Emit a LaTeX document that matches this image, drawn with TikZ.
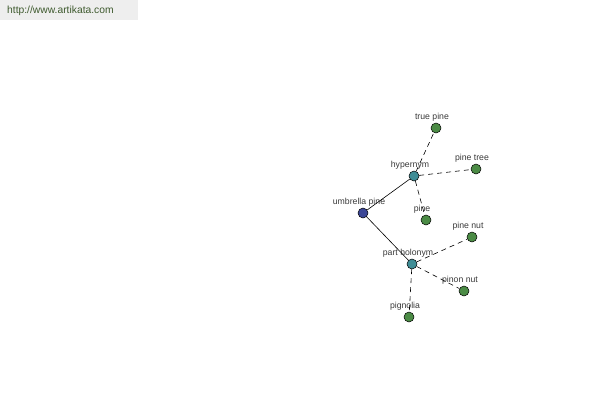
\documentclass[tikz,border=0pt]{standalone}
\usepackage{fontspec}
\setmainfont{Liberation Sans}
\usepackage{xcolor}
\definecolor{vroot}{HTML}{3b4696}
\definecolor{vhub}{HTML}{3f8d96}
\definecolor{vleaf}{HTML}{4b8b45}
\definecolor{vtext}{HTML}{3a3a3a}
\definecolor{vbanner}{HTML}{eeeeee}
\definecolor{vlink}{HTML}{3e5a2e}

\tikzset{
	wnode/.style={circle, draw=black, line width=0.5pt, minimum size=10pt, inner sep=0pt},
	lbl/.style={font=\fontsize{8.7}{9}\selectfont, text=vtext, inner sep=0.3pt, xshift=-4pt, label distance=0.5pt},
	rel/.style={draw=black, line width=0.6pt},
	reldash/.style={draw=black, line width=0.6pt, dash pattern=on 5pt off 4pt}
}

\begin{document}
\begin{tikzpicture}[x=1pt, y=-1pt]
		\useasboundingbox[fill=white] (0,0) rectangle (600,400);
		\fill[color=vbanner] (0,0) rectangle (138,20);
		\node[anchor=west, font=\fontsize{10.3}{12}\selectfont, text=vlink, inner sep=0pt] (site) at (7,10.5) {http://www.artikata.com};

		\node[wnode, fill=vroot, label={[lbl]above:umbrella pine}] (umbrella) at (363,213) {};
		\node[wnode, fill=vhub, label={[lbl]above:hypernym}] (hypernym) at (414,176) {};
		\node[wnode, fill=vhub, label={[lbl]above:part holonym}] (holonym) at (412,264) {};
		\node[wnode, fill=vleaf, label={[lbl]above:true pine}] (truepine) at (436,128) {};
		\node[wnode, fill=vleaf, label={[lbl]above:pine tree}] (pinetree) at (476,169) {};
		\node[wnode, fill=vleaf, label={[lbl]above:pine}] (pine) at (426,220) {};
		\node[wnode, fill=vleaf, label={[lbl]above:pine nut}] (pinenut) at (472,237) {};
		\node[wnode, fill=vleaf, label={[lbl]above:pinon nut}] (pinonnut) at (464,291) {};
		\node[wnode, fill=vleaf, label={[lbl]above:pignolia}] (pignolia) at (409,317) {};

		\draw[rel] (umbrella) -- (hypernym);
		\draw[rel] (umbrella) -- (holonym);
		\draw[reldash] (hypernym) -- (truepine);
		\draw[reldash] (hypernym) -- (pinetree);
		\draw[reldash] (hypernym) -- (pine);
		\draw[reldash] (holonym) -- (pinenut);
		\draw[reldash] (holonym) -- (pinonnut);
		\draw[reldash] (holonym) -- (pignolia);
	\end{tikzpicture}
\end{document}
